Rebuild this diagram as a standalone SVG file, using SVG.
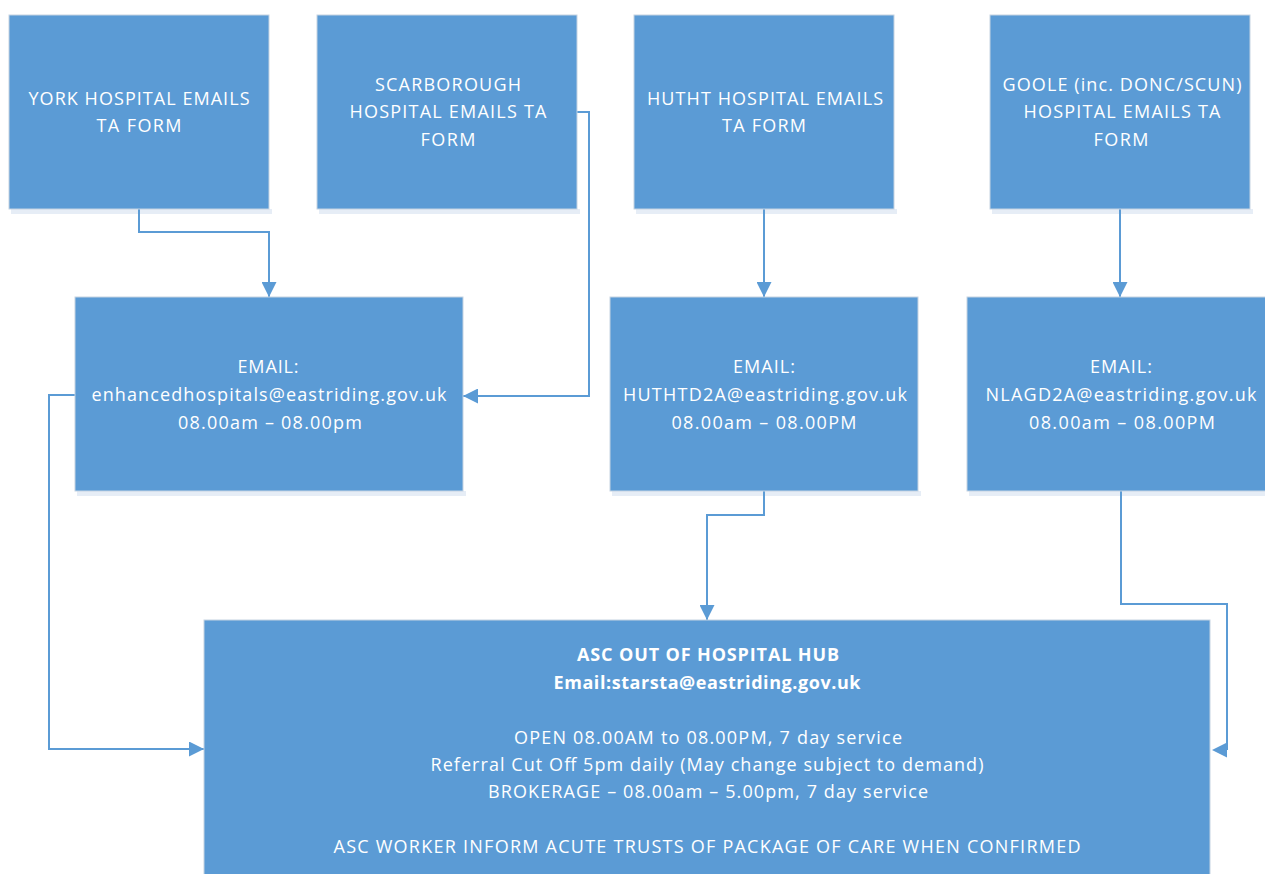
<svg xmlns="http://www.w3.org/2000/svg" width="1265" height="874" viewBox="0 0 1265 874">
<style>
.box{fill:#5B9BD5;stroke:#C5D3E2;stroke-width:1}
.sh{fill:#DCE6F2;opacity:0.7}
.t{font-family:"Open Sans","Liberation Sans",Arial,sans-serif;font-size:18px;fill:#FFFFFF;text-anchor:middle}
.b{font-weight:bold}
.c{fill:none;stroke:#5B9BD5;stroke-width:2}
</style>
<defs>
<marker id="ah" markerWidth="15" markerHeight="15" refX="15" refY="7.5" orient="auto" markerUnits="userSpaceOnUse">
<path d="M0,0 L15,7.5 L0,15 Z" fill="#5B9BD5"/>
</marker>
</defs>
<rect x="0" y="0" width="1265" height="874" fill="#FFFFFF"/>
<g id="shadows">
<rect class="sh" x="11" y="209" width="261" height="5"/>
<rect class="sh" x="319" y="209" width="261" height="5"/>
<rect class="sh" x="636" y="209" width="261" height="5"/>
<rect class="sh" x="992" y="209" width="261" height="5"/>
<rect class="sh" x="77" y="491" width="389" height="5"/>
<rect class="sh" x="612" y="491" width="309" height="5"/>
<rect class="sh" x="969" y="491" width="300" height="5"/>
</g>
<g id="connectors">
<path class="c" d="M139,209 V232 H269 V297" marker-end="url(#ah)"/>
<path class="c" d="M577,112 H589 V396 H463" marker-end="url(#ah)"/>
<path class="c" d="M764,209 V297" marker-end="url(#ah)"/>
<path class="c" d="M1120,209 V297" marker-end="url(#ah)"/>
<path class="c" d="M75,395 H49 V749 H204" marker-end="url(#ah)"/>
<path class="c" d="M764,491 V515 H707 V620" marker-end="url(#ah)"/>
<path class="c" d="M1121,491 V604 H1227 V750"/>
<path d="M1212,750 L1227,742.5 L1227,757.5 Z" fill="#5B9BD5"/>
</g>
<g id="york">
<rect class="box" x="9" y="15" width="260" height="194"/>
<text class="t" x="139" y="105" textLength="221" lengthAdjust="spacing">YORK HOSPITAL EMAILS</text>
<text class="t" x="139" y="132" textLength="85" lengthAdjust="spacing">TA FORM</text>
</g>
<g id="scarborough">
<rect class="box" x="317" y="15" width="260" height="194"/>
<text class="t" x="448" y="91" textLength="146" lengthAdjust="spacing">SCARBOROUGH</text>
<text class="t" x="448" y="118" textLength="197" lengthAdjust="spacing">HOSPITAL EMAILS TA</text>
<text class="t" x="448" y="146" textLength="55" lengthAdjust="spacing">FORM</text>
</g>
<g id="hutht">
<rect class="box" x="634" y="15" width="260" height="194"/>
<text class="t" x="765" y="105" textLength="236" lengthAdjust="spacing">HUTHT HOSPITAL EMAILS</text>
<text class="t" x="764" y="132" textLength="84" lengthAdjust="spacing">TA FORM</text>
</g>
<g id="goole">
<rect class="box" x="990" y="15" width="260" height="194"/>
<text class="t" x="1122" y="91" textLength="239" lengthAdjust="spacing">GOOLE (inc. DONC/SCUN)</text>
<text class="t" x="1122" y="118" textLength="197" lengthAdjust="spacing">HOSPITAL EMAILS TA</text>
<text class="t" x="1121" y="146" textLength="55" lengthAdjust="spacing">FORM</text>
</g>
<g id="enhanced">
<rect class="box" x="75" y="297" width="388" height="194"/>
<text class="t" x="268" y="373" textLength="61" lengthAdjust="spacing">EMAIL:</text>
<text class="t" x="269" y="401" textLength="355" lengthAdjust="spacing">enhancedhospitals@eastriding.gov.uk</text>
<text class="t" x="270" y="429" textLength="184" lengthAdjust="spacing">08.00am – 08.00pm</text>
</g>
<g id="huthtd2a">
<rect class="box" x="610" y="297" width="308" height="194"/>
<text class="t" x="764" y="373" textLength="62" lengthAdjust="spacing">EMAIL:</text>
<text class="t" x="765" y="401" textLength="284" lengthAdjust="spacing">HUTHTD2A@eastriding.gov.uk</text>
<text class="t" x="764" y="429" textLength="185" lengthAdjust="spacing">08.00am – 08.00PM</text>
</g>
<g id="nlag">
<rect class="box" x="967" y="297" width="310" height="194"/>
<text class="t" x="1121" y="373" textLength="62" lengthAdjust="spacing">EMAIL:</text>
<text class="t" x="1121" y="401" textLength="271" lengthAdjust="spacing">NLAGD2A@eastriding.gov.uk</text>
<text class="t" x="1122" y="429" textLength="186" lengthAdjust="spacing">08.00am – 08.00PM</text>
</g>
<g id="hub">
<rect class="box" x="204" y="620" width="1006" height="270"/>
<text class="t b" x="708" y="661" textLength="262" lengthAdjust="spacing">ASC OUT OF HOSPITAL HUB</text>
<text class="t b" x="707" y="689" textLength="307" lengthAdjust="spacing">Email:starsta@eastriding.gov.uk</text>
<text class="t" x="708" y="744" textLength="388" lengthAdjust="spacing">OPEN 08.00AM to 08.00PM, 7 day service</text>
<text class="t" x="707" y="771" textLength="553" lengthAdjust="spacing">Referral Cut Off 5pm daily (May change subject to demand)</text>
<text class="t" x="708" y="798" textLength="440" lengthAdjust="spacing">BROKERAGE – 08.00am – 5.00pm, 7 day service</text>
<text class="t" x="707" y="853" textLength="747" lengthAdjust="spacing">ASC WORKER INFORM ACUTE TRUSTS OF PACKAGE OF CARE WHEN CONFIRMED</text>
</g>
</svg>
